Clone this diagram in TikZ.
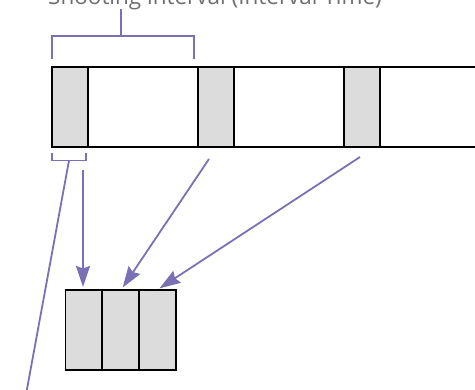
\documentclass[tikz,border=0pt]{standalone}
\usepackage{fontspec}
\setmainfont{Open Sans}
\usetikzlibrary{arrows.meta}
\definecolor{lineP}{HTML}{7A70B4}
\definecolor{cellG}{HTML}{DCDCDC}
\definecolor{txtG}{HTML}{6E6E6E}
\tikzset{
  frame/.style={draw=black, line width=1.6pt, minimum height=80pt, inner sep=0pt, outer sep=0pt},
  graycell/.style={frame, fill=cellG, minimum width=36pt},
  whitecell/.style={frame, fill=white, minimum width=110pt},
  smallcell/.style={draw=black, line width=1.6pt, fill=cellG, minimum height=80pt, minimum width=37pt, inner sep=0pt, outer sep=0pt},
  conn/.style={draw=lineP, line width=1.8pt},
  arr/.style={conn, -{Stealth[length=21pt,width=14pt,inset=2.5pt]}, shorten >=3pt},
}
\begin{document}
\begin{tikzpicture}[x=1pt,y=-1pt]
\clip (0,0) rectangle (475,390);
\useasboundingbox (0,0) rectangle (475,390);
% title
\node[anchor=base, font=\fontsize{22.5}{26}\selectfont, text=txtG, inner sep=0pt] (title) at (215,5) {Shooting interval (Interval Time)};
% bar
\node[whitecell] (c2) at (143,107) {};
\node[whitecell] (c4) at (289,107) {};
\node[whitecell] (c6) at (435,107) {};
\node[graycell] (c1) at (70,107) {};
\node[graycell] (c3) at (216,107) {};
\node[graycell] (c5) at (362,107) {};
% small boxes
\node[smallcell] (s1) at (84,330) {};
\node[smallcell] (s2) at (120.5,330) {};
\node[smallcell] (s3) at (157.5,330) {};
% top bracket
\coordinate (tbL) at (52,59);
\coordinate (tbR) at (194,59);
\coordinate (tbS) at (121,9);
\draw[conn] (tbL) |- (tbR |- 0,36) -- (tbR);
\draw[conn] (tbS) -- (tbS |- 0,36);
% bottom bracket
\coordinate (bbL) at (52,153);
\coordinate (bbR) at (86,153);
\draw[conn] (bbL) |- (bbR |- 0,160.5) -- (bbR);
\coordinate (bbM) at (69,160.5);
\coordinate (bbEnd) at (25,400);
\draw[conn] (bbM) -- (bbEnd);
% arrows
\coordinate (a1) at (83,170);
\coordinate (a2) at (209,159);
\coordinate (a3) at (360,157);
\draw[arr] (a1) -- (a1 |- s1.north);
\draw[arr] (a2) -- ([xshift=0.5pt]s2.north);
\draw[arr] (a3) -- ([xshift=-0.5pt]s3.north);
\end{tikzpicture}
\end{document}
